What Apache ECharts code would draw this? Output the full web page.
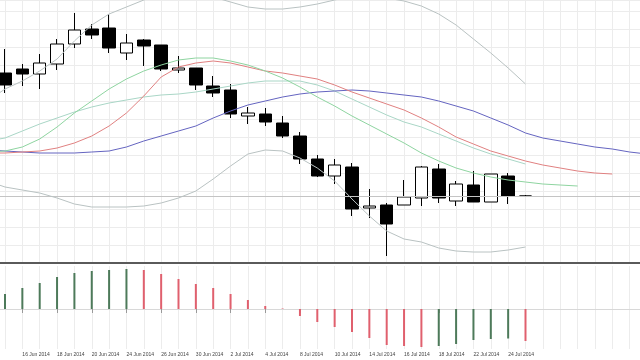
<!DOCTYPE html>
<html><head><meta charset="utf-8">
<script src="https://cdn.jsdelivr.net/npm/echarts@6/dist/echarts.min.js"></script>
<style>html,body{margin:0;padding:0;background:#fff;overflow:hidden}#c{width:640px;height:360px}</style>
</head><body><div id="c"></div>
<script>
// Trading days (first slot is 12 Jun, partly off-canvas; last slots are empty future space)
const categories = ['12 Jun 2014','13 Jun 2014','16 Jun 2014','17 Jun 2014','18 Jun 2014','19 Jun 2014','20 Jun 2014',
  '23 Jun 2014','24 Jun 2014','25 Jun 2014','26 Jun 2014','27 Jun 2014','30 Jun 2014','1 Jul 2014','2 Jul 2014',
  '3 Jul 2014','4 Jul 2014','7 Jul 2014','8 Jul 2014','9 Jul 2014','10 Jul 2014','11 Jul 2014','14 Jul 2014',
  '15 Jul 2014','16 Jul 2014','17 Jul 2014','18 Jul 2014','21 Jul 2014','22 Jul 2014','23 Jul 2014','24 Jul 2014',
  '25 Jul 2014','28 Jul 2014','29 Jul 2014','30 Jul 2014','31 Jul 2014','1 Aug 2014','4 Aug 2014','5 Aug 2014'];
const lastLabelIndex = 30; // '24 Jul 2014'

// OHLC from 13 Jun to 25 Jul
const open  = [1190,1194,1189,1199,1219,1234,1235,1210,1223,1218,1193,1195,1177,1173,1147,1149,1140,1127,1104,1087,1096,1055,1058,1058,1065,1094,1062,1078,1061,1087,1067];
const close = [1178,1189,1200,1219,1233,1228,1215,1220,1217,1194,1195,1178,1170,1149,1150,1141,1127,1104,1087,1098,1054,1057,1039,1066,1096,1065,1079,1061,1089,1067,1067];
const low   = [1170,1177,1174,1193,1215,1224,1210,1203,1197,1192,1190,1173,1166,1145,1139,1137,1125,1099,1086,1079,1047,1045,1007,1058,1057,1060,1057,1061,1061,1059,1066];
const high  = [1214,1199,1209,1224,1250,1239,1249,1229,1224,1218,1207,1195,1187,1179,1156,1155,1147,1131,1108,1104,1100,1074,1060,1083,1097,1099,1082,1092,1089,1090,1068];

// Bollinger bands (from 12 Jun to 25 Jul)
const bbUpper  = [1162,1174,1182,1192,1204,1222,1238,1249,1256,1263,1268,1271,1270,1266,1261,1256,1254,1254,1256,1259,1263,1267,1269,1265,1262,1257,1249,1238,1224,1210,1195,1179];
const bbMiddle = [1122,1125,1132,1139,1145,1151,1156,1160,1163,1166,1168,1169,1171,1174,1177,1180,1182,1182,1182,1178,1172,1164,1156,1148,1141,1136,1129,1122,1115,1109,1104,1099];
const bbLower  = [1082,1076,1073,1070,1065,1059,1056,1056,1056,1057,1060,1065,1072,1084,1097,1109,1113,1112,1105,1095,1082,1064,1047,1032,1024,1021,1015,1012,1011,1011,1013,1016];

// Alligator (shifted forward)
const jaw   = [1113,1112,1111,1110,1110,1110,1111,1112,1116,1122,1127,1132,1137,1145,1152,1158,1162,1166,1169,1171,1172,1173,1172,1170,1168,1166,1162,1157,1152,1145,1138,1130,1125,1122,1119,1116,1114,1111,1109];
const teeth = [1110,1110,1111,1112,1115,1120,1127,1137,1150,1167,1186,1196,1200,1202,1200,1196,1192,1190,1187,1184,1178,1171,1165,1159,1153,1145,1136,1126,1119,1112,1107,1102,1098,1095,1092,1090,1089];
const lips  = [1111,1112,1116,1124,1136,1150,1162,1174,1184,1192,1198,1203,1205,1205,1202,1198,1192,1185,1176,1166,1157,1147,1138,1129,1120,1110,1102,1095,1090,1086,1083,1081,1079,1078,1077];

// Awesome-oscillator style histogram (13 Jun to 25 Jul)
const osc = [15,21,26,32,36,38,39,40,39,35,30,25,21,15,9,3,0.5,-7,-13,-18,-23,-29,-36,-37,-38,-37,-35,-31,-30,-29.5,-32];

const candleData = ['-'].concat(open.map((o,i)=>[o, close[i], low[i], high[i]]));
const oscData = ['-'].concat(osc.map((v,i)=>({
  value: v,
  itemStyle: { color: (i===0 || v > osc[i-1]) ? '#4d7a5a' : '#e0606e' }
})));
const lastClose = close[close.length-1];

const labelShow = (idx) => idx % 2 === 0 && idx <= lastLabelIndex && idx > 0;
const gridLineColor = '#ececec';

const chart = echarts.init(document.getElementById('c'));
const lineS = (name, data, color) => ({
  name, type:'line', data, xAxisIndex:0, yAxisIndex:0, showSymbol:false, symbol:'none',
  smooth:false, z:5, lineStyle:{color, width:1}, silent:true, animation:false
});
chart.setOption({
  animation:false,
  backgroundColor:'#ffffff',
  grid:[
    {left:-12.35, right:-6.95, top:0, height:263, outerBoundsMode:'none', containLabel:false},
    {left:-12.35, right:-6.95, top:266, height:83, outerBoundsMode:'none', containLabel:false}
  ],
  xAxis:[
    {type:'category', gridIndex:0, data:categories, boundaryGap:false,
     axisLine:{show:true, lineStyle:{color:'#5a5a5a', width:2}}, axisTick:{show:false}, axisLabel:{show:false},
     splitLine:{show:true, interval:0, lineStyle:{color:gridLineColor, width:1}}},
    {type:'category', gridIndex:1, data:categories, boundaryGap:false,
     axisLine:{show:true, lineStyle:{color:'#d8d8d8', width:1}},
     axisTick:{show:true, interval:labelShow, length:4, lineStyle:{color:'#999'}},
     axisLabel:{show:true, interval:labelShow, align:'left', margin:3, fontSize:5, color:'#444', fontFamily:'Liberation Sans'},
     splitLine:{show:true, interval:0, lineStyle:{color:gridLineColor, width:1}}}
  ],
  yAxis:[
    {type:'value', gridIndex:0, min:1000, max:1263, interval:18, axisLine:{show:false}, axisTick:{show:false}, axisLabel:{show:false},
     splitLine:{show:true, lineStyle:{color:gridLineColor, width:1}}},
    {type:'value', gridIndex:1, min:-40, max:43, axisLine:{show:false}, axisTick:{show:false}, axisLabel:{show:false},
     splitLine:{show:false}}
  ],
  series:[
    {type:'candlestick', xAxisIndex:0, yAxisIndex:0, data:candleData, barWidth:13, z:3,
     itemStyle:{color:'#ffffff', color0:'#000000', borderColor:'#000000', borderColor0:'#000000', borderWidth:1},
     markLine:{silent:true, symbol:'none', label:{show:false}, lineStyle:{color:'#c4c4c4', type:'solid', width:1},
       data:[{yAxis:lastClose}]}},
    lineS('BB upper', bbUpper, '#b9c2c2'),
    lineS('BB middle', bbMiddle, '#a9d6c6'),
    lineS('BB lower', bbLower, '#b9c2c2'),
    lineS('Jaw', jaw, '#6464c0'),
    lineS('Teeth', teeth, '#e08080'),
    lineS('Lips', lips, '#8ed4a0'),
    {type:'bar', xAxisIndex:1, yAxisIndex:1, data:oscData, barWidth:2, silent:true}
  ]
});
</script></body></html>
